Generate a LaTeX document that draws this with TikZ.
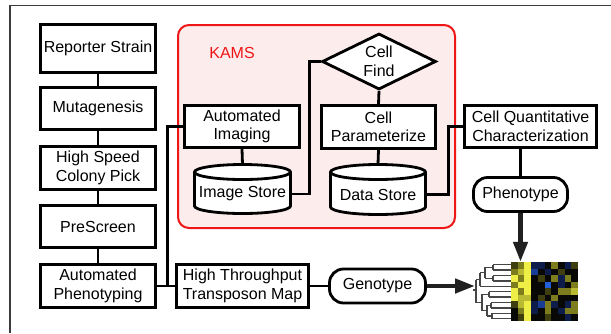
\documentclass[tikz,border=0pt]{standalone}
\usepackage{fontspec}
\setmainfont{Liberation Sans}
\usetikzlibrary{shapes.geometric, arrows.meta, calc}

\definecolor{framegray}{RGB}{60,60,60}
\definecolor{kamsred}{RGB}{238,22,22}
\definecolor{kamsfill}{RGB}{253,236,236}
\definecolor{arrowgray}{RGB}{32,32,32}
\definecolor{treegray}{RGB}{70,70,70}
% heat map palette
\definecolor{hk}{RGB}{8,8,6}
\definecolor{hdb}{RGB}{14,28,75}
\definecolor{hb}{RGB}{25,60,150}
\definecolor{hbb}{RGB}{35,95,215}
\definecolor{hdo}{RGB}{62,62,14}
\definecolor{ho}{RGB}{125,125,30}
\definecolor{hyo}{RGB}{185,185,50}
\definecolor{hy}{RGB}{238,238,70}

\newcommand\cylry{7.5}
% database cylinder: name, centre x, top y, bottom y, half width, label
\newcommand\dbstore[6]{%
  \draw[conn, fill=white] ({#2-#5},{#3+\cylry}) -- ({#2-#5},{#4-\cylry})
    arc[start angle=180, end angle=0, x radius=#5, y radius=\cylry]
    -- ({#2+#5},{#3+\cylry})
    arc[start angle=360, end angle=180, x radius=#5, y radius=\cylry] -- cycle;
  \draw[conn] ({#2-#5},{#3+\cylry})
    arc[start angle=180, end angle=0, x radius=#5, y radius=\cylry];
  \coordinate (#1-top) at (#2,#3);
  \node[storetext, minimum width={2*#5}] (#1) at (#2,{(#3+#4)/2+5}) {#6};
}

\tikzset{
  txt/.style={font=\fontsize{16}{18.5}\selectfont, align=center, inner sep=0pt},
  box/.style={txt, draw, line width=2.8pt, fill=white},
  colbox/.style={box, minimum width=115pt},
  pill/.style={box, rounded corners=14pt, minimum height=34pt},
  storetext/.style={txt},
  conn/.style={line width=2.8pt, black},
  bigarrow/.style={line width=4.5pt, arrowgray,
    -{Triangle[width=14pt, length=20pt]}},
  tree/.style={line width=1.3pt, treegray},
}

\begin{document}
\begin{tikzpicture}[x=1pt, y=-1pt]
\useasboundingbox (0,0) rectangle (611,333);

% page frame
\draw[framegray, line width=1.5pt] (10,333) -- (10,5.5) -- (611,5.5);

% KAMS panel
\node[draw=kamsred, fill=kamsfill, line width=2pt, rounded corners=11pt,
      minimum width=277pt, minimum height=203pt, inner sep=0pt] (kams) at (316.5,126.5) {};
\node[txt, text=kamsred] (kamslabel) at (232,53) {KAMS};

% pipeline column
\node[colbox, minimum height=48pt] (rs)   at (98,48.5)  {Reporter Strain};
\node[colbox, minimum height=42pt] (mut)  at (98,108.5) {Mutagenesis};
\node[colbox, minimum height=43pt] (hscp) at (98,168)   {High Speed\\Colony Pick};
\node[colbox, minimum height=42pt] (pre)  at (98,226.5) {PreScreen};
\node[colbox, minimum height=43pt] (ap)   at (98,286)   {Automated\\Phenotyping};

% imaging branch
\node[box, minimum width=115pt, minimum height=42pt] (ai) at (242,126.5) {Automated\\Imaging};
\dbstore{imgstore}{242.5}{164.5}{213.5}{48}{Image Store}
\node[txt, draw, line width=2.8pt, fill=white, diamond, aspect=2,
      minimum width=114pt, minimum height=56pt] (cf) at (379,61.5) {Cell\\Find};
\node[box, minimum width=114pt, minimum height=43pt] (cp) at (378.5,127) {Cell\\Parameterize};
\dbstore{datastore}{378}{164.5}{214.5}{47.5}{Data Store}

% characterisation and mapping
\node[box, minimum width=132pt, minimum height=42pt] (cqc) at (530.5,126.5) {Cell Quantitative\\Characterization};
\node[pill, minimum width=94pt] (phen) at (520.5,194.5) {Phenotype};
\node[box, minimum width=132pt, minimum height=43pt] (httm) at (242.5,286) {High Throughput\\Transposon Map};
\node[pill, minimum width=96pt] (geno) at (377.5,286) {Genotype};

% connectors
\draw[conn] (rs) -- (mut);
\draw[conn] (mut) -- (hscp);
\draw[conn] (hscp) -- (pre);
\draw[conn] (pre) -- (ap);
\draw[conn] (ap.east) -- (httm.west);
\draw[conn] (ap.east) ++(10.5,0) |- (ai.west);
\draw[conn] (ai.south) -- (imgstore-top);
\draw[conn] (imgstore.east) -- ++(18.5,0) |- (cf.west);
\draw[conn] (cf.south) -- (cp.north);
\draw[conn] (cp.south) -- (datastore-top);
\draw[conn] (datastore.east) -- ++(22.5,0) |- (cqc.west);
\draw[conn] (phen.north) -- (phen.north |- cqc.south);
\draw[conn] (httm.east) -- (geno.west);

% heat map of phenotype profiles
\node[inner sep=0pt, minimum width=67pt, minimum height=59pt] (hm) at (544.5,291.5) {};
\foreach \row [count=\r] in {
  {hdo,ho,hy,hdb,hdb,hk,ho,hk,hdb,hdo},
  {ho,hyo,hy,hb,hk,hdb,hk,hdo,hk,hk},
  {hy,ho,hy,hk,hdo,hk,ho,hdb,ho,hk},
  {ho,hy,hy,hk,hk,hbb,hk,hdb,hk,ho},
  {hy,ho,hy,hk,hk,hdo,hk,ho,ho,hyo},
  {hy,hyo,hyo,hk,hdo,hk,ho,hk,hk,hk},
  {hdo,hyo,hy,hdb,hb,ho,hdb,hk,hdb,ho},
  {hk,ho,hy,hdb,hk,ho,hk,hdb,ho,ho},
  {hk,hdo,hy,hk,hk,hdo,hk,hk,hdb,hk}} {
  \foreach \c [count=\i] in \row {
    \fill[\c] ({511+(\i-1)*6.7},{262+(\r-1)*6.56}) rectangle ++(6.8,6.66);
  }
}

% clustering dendrogram
\begin{scope}[tree]
  % leaves
  \foreach \y/\x in {264.7/493, 270.1/493, 275.5/493, 280.9/493, 286.3/480,
                     291.7/489, 297.1/489, 302.5/491, 307.9/491, 313.3/492, 318.7/492}
    \draw (\x,\y) -- (511,\y);
  % joins
  \draw (493,264.7) -- (493,270.1);
  \draw (493,275.5) -- (493,280.9);
  \draw (485,267.4) -- (485,278.2) (485,267.4) -- (493,267.4) (485,278.2) -- (493,278.2);
  \draw (480,272.8) -- (480,286.3) (480,272.8) -- (485,272.8);
  \draw (489,291.7) -- (489,297.1);
  \draw (491,302.5) -- (491,307.9);
  \draw (492,313.3) -- (492,318.7);
  \draw (487,305.2) -- (487,316) (487,305.2) -- (491,305.2) (487,316) -- (492,316);
  \draw (482,294.4) -- (482,310.6) (482,294.4) -- (489,294.4) (482,310.6) -- (487,310.6);
  \draw (476,279.5) -- (476,302.5) (476,279.5) -- (480,279.5) (476,302.5) -- (482,302.5);
  \draw (472.5,290) -- (476,290);
\end{scope}
\coordinate (dendroot) at (475,290);

% result arrows
\draw[bigarrow] (phen.south) -- (phen.south |- hm.north);
\draw[bigarrow] (geno.east) -- (geno.east -| dendroot);
\end{tikzpicture}
\end{document}
